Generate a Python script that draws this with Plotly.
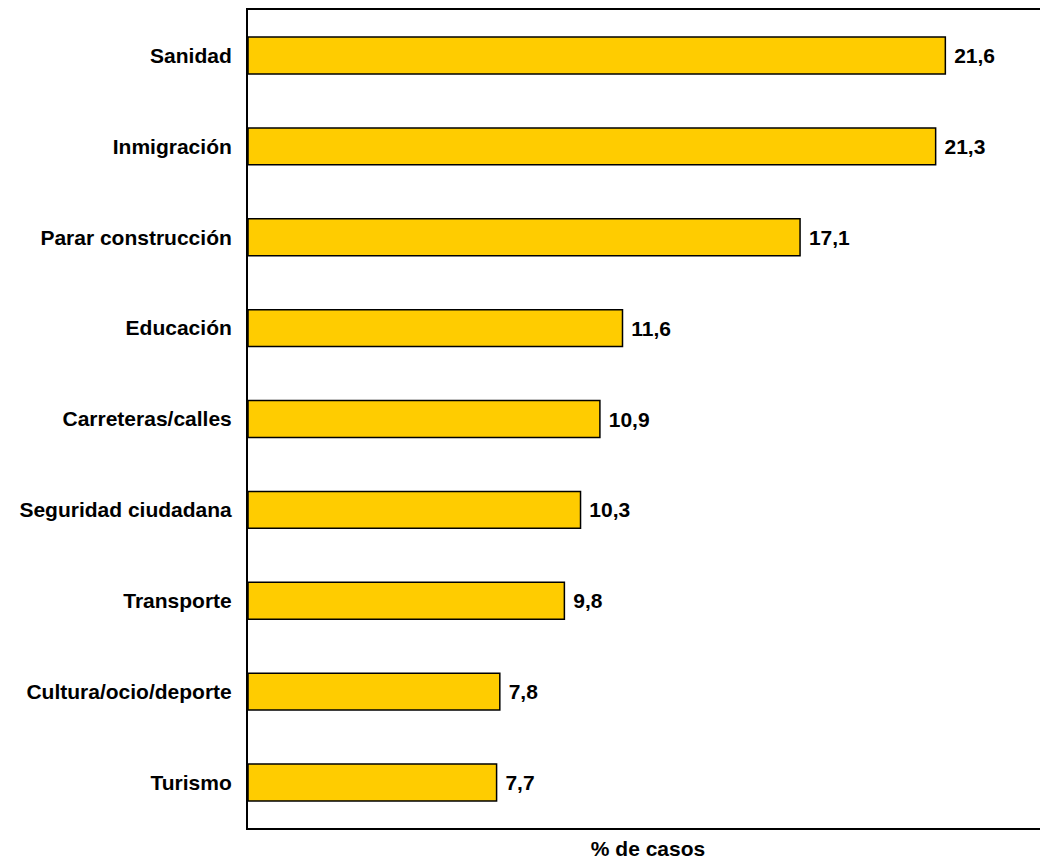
import plotly.graph_objects as go

categories = ["Sanidad", "Inmigración", "Parar construcción", "Educación",
              "Carreteras/calles", "Seguridad ciudadana", "Transporte",
              "Cultura/ocio/deporte", "Turismo"]
values = [21.6, 21.3, 17.1, 11.6, 10.9, 10.3, 9.8, 7.8, 7.7]
x_title = "% de casos"

FONT = "Liberation Sans, Arial"
FS = 21

fig = go.Figure(go.Bar(
    x=values, y=categories, orientation="h",
    marker=dict(color="#FFCC00", line=dict(color="black", width=1.5)),
    texttemplate=" %{x:.1f}", textposition="outside",
    textfont=dict(family=FONT, size=FS, color="black", weight="bold"),
    cliponaxis=False,
))

fig.update_layout(
    width=1040, height=852,
    margin=dict(l=240, r=0, t=0, b=32),
    paper_bgcolor="white", plot_bgcolor="white",
    separators=",.",
    bargap=0.594,
    showlegend=False,
    font=dict(family=FONT, size=FS, color="black", weight="bold"),
)
fig.update_xaxes(range=[0, 24.78], showgrid=False, zeroline=False,
                 showticklabels=False, ticks="",
                 showline=True, linecolor="black", linewidth=1.5, mirror=True,
                 title=dict(text=x_title, standoff=13,
                            font=dict(family=FONT, size=FS, weight="bold")))
fig.update_yaxes(categoryorder="array", categoryarray=categories,
                 autorange="reversed", showgrid=False, zeroline=False,
                 showline=True, linecolor="black", linewidth=2, ticks="",
                 ticklabelstandoff=10,
                 tickfont=dict(family=FONT, size=FS, weight="bold"))

fig.write_html("out.html")
